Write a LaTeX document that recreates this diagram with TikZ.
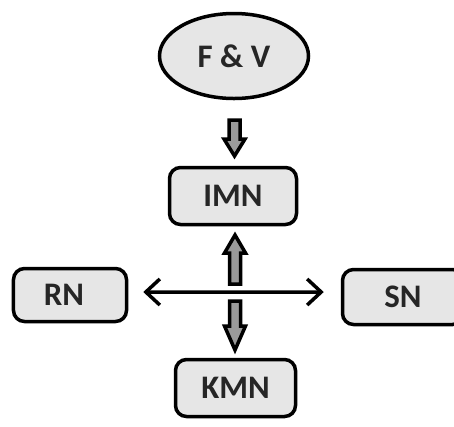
\documentclass[tikz,border=0pt]{standalone}
\usepackage{fontspec}
\setmainfont{Carlito}
\usetikzlibrary{arrows.meta,calc,shapes.geometric}
\definecolor{boxfill}{HTML}{E6E6E6}
\definecolor{arrfill}{HTML}{9A9A9A}
\tikzset{
  lbl/.style={font=\bfseries\fontsize{33}{33}\selectfont, text=black!85},
  box/.style={lbl, draw=black, line width=3.5bp, fill=boxfill, rounded corners=11bp, inner sep=0pt},
  oval/.style={lbl, draw=black, line width=3.5bp, fill=boxfill, ellipse, inner sep=0pt},
  fatstyle/.style={draw=black, fill=arrfill, line width=3.5bp, line join=miter},
  biarrow/.style={line width=3.5bp, {Straight Barb[length=14bp,width=26bp,line width=3.5bp]}-{Straight Barb[length=14bp,width=26bp,line width=3.5bp]}},
}
\newcommand\fatarrow[3]{%
  \filldraw[fatstyle] let \p1=(#1), \p2=(#2), \n1={sign(\y2-\y1)} in
    (\x1-5.5bp,\y1) -- (\x1-5.5bp,{\y2-\n1*#3}) -- (\x1-10.5bp,{\y2-\n1*#3}) --
    (\x1,\y2) -- (\x1+10.5bp,{\y2-\n1*#3}) -- (\x1+5.5bp,{\y2-\n1*#3}) --
    (\x1+5.5bp,\y1) -- cycle;}
\begin{document}
\begin{tikzpicture}[x=1bp,y=-1bp]
\clip (0,0) rectangle (454,426);
\fill[white] (0,0) rectangle (454,426);
\node[oval, minimum width=149bp, minimum height=85bp] (fv) at (234,56) {F \& V};
\node[box, minimum width=127bp, minimum height=57bp] (imn) at (233,196) {IMN};
\node[box, minimum width=113bp, minimum height=53bp] (rn) at (70,295) {RN\kern12bp};
\node[box, minimum width=121bp, minimum height=55bp] (sn) at (403,297) {SN};
\node[box, minimum width=120bp, minimum height=57bp] (kmn) at (235.5,388) {KMN};
% fat arrows
\coordinate (a1s) at (234.5,120);
\coordinate (a1e) at (234.5,156);
\coordinate (a2s) at (235,284);
\coordinate (a2e) at (235,235);
\coordinate (a3s) at (235,301);
\coordinate (a3e) at (235,350);
\fatarrow{a1s}{a1e}{17bp}
\fatarrow{a2s}{a2e}{18bp}
\fatarrow{a3s}{a3e}{24bp}
% horizontal double arrow
\draw[biarrow, shorten <=15bp, shorten >=17bp] ([yshift=3bp]rn.east) -- ([yshift=5bp]sn.west);
\end{tikzpicture}
\end{document}
